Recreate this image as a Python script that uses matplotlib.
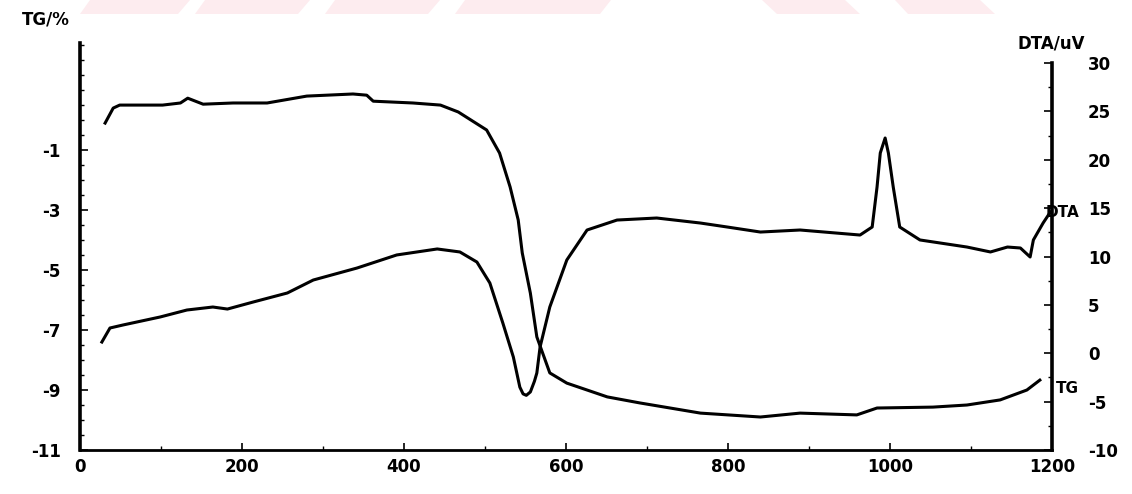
import numpy as np
import matplotlib
matplotlib.use('Agg')
import matplotlib.pyplot as plt
from matplotlib.patches import Polygon
from matplotlib.ticker import MultipleLocator, FixedLocator

plt.rcParams['axes.unicode_minus'] = False
plt.rcParams['font.family'] = ['DejaVu Sans']

# TG curve (temperature, mass change %)
tg_temp = [31, 41, 49, 102, 124, 133, 152, 189, 231, 280, 337, 354, 362, 411, 445,
           467, 502, 518, 531, 541, 546, 556, 564, 580, 601, 651, 691, 766, 840, 889,
           959, 984, 1053, 1095, 1136, 1169, 1185]
tg_val = [-0.10, 0.40, 0.50, 0.50, 0.57, 0.73, 0.53, 0.57, 0.57, 0.80, 0.87, 0.83, 0.63, 0.57, 0.50,
          0.27, -0.33, -1.10, -2.23, -3.33, -4.43, -5.77, -7.23, -8.43, -8.77, -9.23, -9.43, -9.77, -9.90, -9.77,
          -9.83, -9.60, -9.57, -9.50, -9.33, -9.00, -8.67]

# DTA curve (temperature, uV)
dta_temp = [27, 37, 53, 99, 132, 164, 182, 214, 256, 288, 342, 391, 441, 469, 490,
            506, 522, 535, 543, 547, 551, 556, 561, 564, 568, 580, 601, 626, 663, 712,
            766, 799, 840, 889, 963, 978, 984, 988, 994, 998, 1004, 1012, 1037, 1095,
            1124, 1145, 1161, 1173, 1177, 1189, 1198]
dta_val = [1.16, 2.61, 2.92, 3.75, 4.47, 4.78, 4.57, 5.30, 6.23, 7.57, 8.81, 10.16, 10.78, 10.47, 9.43,
           7.26, 3.13, -0.39, -3.5, -4.2, -4.35, -4.0, -2.9, -2.04, 0.65, 4.78, 9.64, 12.74, 13.77, 13.98,
           13.46, 13.05, 12.53, 12.74, 12.22, 13.05, 17.18, 20.70, 22.25, 20.70, 17.18, 13.05, 11.71, 10.98,
           10.47, 10.98, 10.88, 9.95, 11.71, 13.46, 14.60]

x_ticks = [0, 200, 400, 600, 800, 1000, 1200]
tg_ticks = [-11, -9, -7, -5, -3, -1]
dta_ticks = [-10, -5, 0, 5, 10, 15, 20, 25, 30]

W, H = 1132, 494
fig = plt.figure(figsize=(W / 100, H / 100), dpi=100)
fig.patch.set_facecolor('white')

# faint pink watermark strip at the top
pink = '#fdecef'
strips = [(80, 90, 190, 178), (195, 205, 310, 298), (325, 335, 440, 428),
          (455, 465, 611, 600), (777, 762, 845, 860), (908, 895, 980, 995)]
for xb0, xt0, xt1, xb1 in strips:
    pts = [(xb0 / W, 1 - 14 / H), (xt0 / W, 1.0), (xt1 / W, 1.0), (xb1 / W, 1 - 14 / H)]
    fig.patches.append(Polygon(pts, closed=True, transform=fig.transFigure,
                               facecolor=pink, edgecolor='none', zorder=0))

left, right, top, bottom = 80, 1052, 43, 450
ax = fig.add_axes([left / W, 1 - bottom / H, (right - left) / W, (bottom - top) / H])
ax2 = ax.twinx()

ax.set_xlim(0, 1200)
ax.set_ylim(-11, 2.57)
ax2.set_ylim(-10, 32.07)

ax.plot(tg_temp, tg_val, color='black', lw=2.2, solid_joinstyle='round')
ax2.plot(dta_temp, dta_val, color='black', lw=2.2, solid_joinstyle='round')

for a in (ax, ax2):
    a.spines['top'].set_visible(False)
    a.patch.set_visible(False)
ax.spines['right'].set_visible(False)
ax2.spines['left'].set_visible(False)
ax2.spines['bottom'].set_visible(False)
ax.spines['left'].set_linewidth(2.6)
ax.spines['bottom'].set_linewidth(2.0)
ax2.spines['right'].set_linewidth(2.6)
ax2.spines['right'].set_bounds(-10, 30)

font = dict(fontsize=12, fontweight='bold')

ax.xaxis.set_major_locator(FixedLocator(x_ticks))
ax.xaxis.set_minor_locator(MultipleLocator(100))
ax.set_xticklabels([str(t) for t in x_ticks], **font)
ax.tick_params(axis='x', which='major', direction='in', length=5, width=1.2, pad=6)
ax.tick_params(axis='x', which='minor', direction='in', length=3, width=1)

ax.yaxis.set_major_locator(FixedLocator(tg_ticks))
ax.yaxis.set_minor_locator(MultipleLocator(0.5))
ax.set_yticklabels([str(t) for t in tg_ticks], **font)
ax.tick_params(axis='y', which='major', direction='in', length=6, width=1.2, pad=14)
ax.tick_params(axis='y', which='minor', direction='in', length=3, width=1)

ax2.yaxis.set_major_locator(FixedLocator(dta_ticks))
ax2.yaxis.set_minor_locator(FixedLocator(np.arange(-7.5, 30, 5)))
ax2.set_yticklabels([str(t) for t in dta_ticks], **font)
ax2.tick_params(axis='y', which='major', direction='in', length=6, width=1.2, pad=26)
ax2.tick_params(axis='y', which='minor', direction='in', length=3, width=1)

# axis titles and curve labels
fig.text(22 / W, 1 - 19 / H, 'TG/%', ha='left', va='center', **font)
fig.text(1017 / W, 1 - 44 / H, 'DTA/uV', ha='left', va='center', **font)
ax2.text(0.993, 14.6, 'DTA', transform=ax2.get_yaxis_transform(), ha='left', va='center',
         clip_on=False, fontsize=11, fontweight='bold')
ax.text(1.004, -8.95, 'TG', transform=ax.get_yaxis_transform(), ha='left', va='center',
        clip_on=False, fontsize=11, fontweight='bold')

fig.savefig('out.png', dpi=100)
